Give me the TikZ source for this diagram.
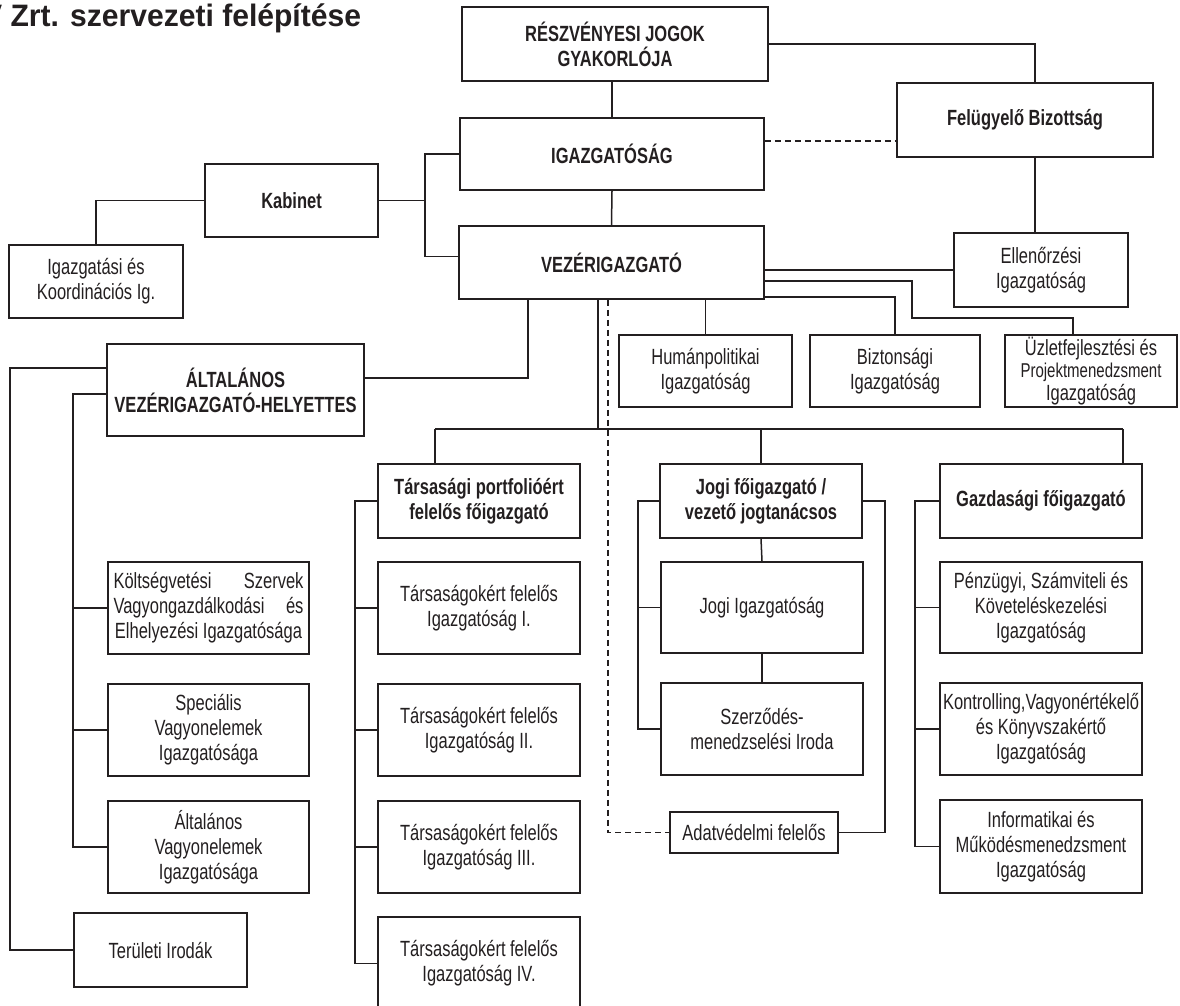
\documentclass[tikz,border=0pt]{standalone}
\usepackage{fontspec}
\setmainfont{Liberation Sans}[FakeStretch=0.75]
\newfontfamily\headfont{Liberation Sans}[FakeStretch=0.97]
\usetikzlibrary{calc}
\definecolor{ink}{HTML}{231F20}
\tikzset{
  box/.style={draw=ink, line width=1.8pt, inner sep=0pt, align=center, text=ink, font=\fontsize{22}{25}\selectfont},
  boxb/.style={box, font=\fontsize{22}{25}\selectfont\bfseries},
  sz/.style 2 args={minimum width=#1pt, minimum height=#2pt},
  link/.style={draw=ink, line width=1.5pt},
  dlink/.style={link, dash pattern=on 6pt off 4pt},
}

\begin{document}
\begin{tikzpicture}[x=1pt,y=-1pt]
  \fill[white] (0,0) rectangle (1180,1006);
  \useasboundingbox (0,0) rectangle (1180,1006);

  \node[anchor=base west, inner sep=0pt, text=ink, font=\headfont\bfseries\fontsize{31}{36}\selectfont] (title) at (-18,27) {V Zrt. szervezeti felépítése};

  \node[boxb, sz={306}{74}] (resz) at (615,44) {RÉSZVÉNYESI JOGOK\\GYAKORLÓJA};
  \node[boxb, sz={256}{74}] (felugy) at (1025,120) {Felügyelő Bizottság};
  \node[boxb, sz={304}{72}] (igaz) at (612,154) {IGAZGATÓSÁG};
  \node[boxb, sz={173}{73}] (kab) at (291.5,200.5) {Kabinet};
  \node[box, sz={174}{73}] (igkoord) at (96,281.5) {Igazgatási és\\Koordinációs Ig.};
  \node[boxb, sz={305}{73}] (vez) at (611.5,262.5) {VEZÉRIGAZGATÓ};
  \node[box, sz={174}{74}] (ellen) at (1041,270) {Ellenőrzési\\Igazgatóság};
  \node[box, sz={173}{72}] (human) at (705.5,371) {Humánpolitikai\\Igazgatóság};
  \node[box, sz={170}{72}] (bizt) at (895,371) {Biztonsági\\Igazgatóság};
  \node[box, sz={172}{72}, font=\fontsize{22}{22.5}\selectfont] (uzlet) at (1091,371) {Üzletfejlesztési és\\{\fontsize{20}{22.5}\selectfont Projektmenedzsment}\\Igazgatóság};
  \node[boxb, sz={257}{92}] (altveh) at (235.5,390) {ÁLTALÁNOS\\VEZÉRIGAZGATÓ-HELYETTES};

  \node[boxb, sz={202}{74}] (tars) at (479,501) {Társasági portfolióért\\felelős főigazgató};
  \node[boxb, sz={202}{74}] (jogifo) at (761,501) {Jogi főigazgató /\\vezető jogtanácsos};
  \node[boxb, sz={202}{74}] (gazd) at (1041,501) {Gazdasági főigazgató};

  \node[box, sz={201}{92}] (koltseg) at (208.5,608) {\makebox[190pt][s]{Költségvetési Szervek}\\\makebox[190pt][s]{Vagyongazdálkodási és}\\Elhelyezési Igazgatósága};
  \node[box, sz={201}{92}] (spec) at (208.5,730) {Speciális\\Vagyonelemek\\Igazgatósága};
  \node[box, sz={201}{92}] (altvagy) at (208.5,847) {Általános\\Vagyonelemek\\Igazgatósága};
  \node[box, sz={173}{74}] (terul) at (160.5,950) {Területi Irodák};

  \node[box, sz={202}{92}] (tars1) at (479,608) {Társaságokért felelős\\Igazgatóság I.};
  \node[box, sz={202}{92}] (tars2) at (479,730) {Társaságokért felelős\\Igazgatóság II.};
  \node[box, sz={202}{92}] (tars3) at (479,847) {Társaságokért felelős\\Igazgatóság III.};
  \node[box, sz={202}{93}] (tars4) at (479,963.5) {Társaságokért felelős\\Igazgatóság IV.};

  \node[box, sz={202}{91}] (jogig) at (762,607.5) {Jogi Igazgatóság};
  \node[box, sz={202}{92}] (szerz) at (762,729) {Szerződés-\\menedzselési Iroda};
  \node[box, sz={168}{41}, line width=1.5pt] (adat) at (754,832.5) {Adatvédelmi felelős};

  \node[box, sz={202}{91}] (penz) at (1041,607.5) {Pénzügyi, Számviteli és\\Követeléskezelési\\Igazgatóság};
  \node[box, sz={202}{92}] (kontr) at (1041,729) {Kontrolling,Vagyonértékelő\\és Könyvszakértő\\Igazgatóság};
  \node[box, sz={202}{93}] (inform) at (1041,846.5) {Informatikai és\\Működésmenedzsment\\Igazgatóság};

  \coordinate (fb) at (1035,0);
  \coordinate (kbus) at (425,200.5);
  \coordinate (uzbend) at (912,318);
  \coordinate (avb) at (528,378);
  \coordinate (vbus) at (598,429);
  \coordinate (busL) at (435,429);
  \coordinate (busR) at (1123,429);
  \coordinate (dbend) at (608,832.5);
  \coordinate (jr) at (885,501);
  \coordinate (jl) at (638,0);
  \coordinate (tl) at (355,0);
  \coordinate (gl) at (915,0);
  \coordinate (ol) at (10,0);
  \coordinate (il) at (73,0);

  \draw[link] (resz.east) -| (fb |- felugy.north);
  \draw[link] (fb |- felugy.south) -- (fb |- ellen.north);
  \draw[link] (igaz.north) -- (igaz.north |- resz.south);
  \draw[link] (igaz.south) -- (vez.north);
  \draw[dlink] ([yshift=13pt]igaz.east) -- ([yshift=13pt]igaz.east -| felugy.west);
  \draw[link] (kab.east) -- (kbus);
  \draw[link] (igaz.west) -| (kbus) |- ([yshift=6pt]vez.west);
  \draw[link] (kab.west) -| (igkoord.north);
  \draw[link] (vez.east |- ellen.west) -- (ellen.west);
  \draw[link] ([yshift=-18.5pt]vez.east) -| (uzbend) -| ([xshift=-18pt]uzlet.north);
  \draw[link] ([yshift=-34.5pt]vez.east) -| (bizt.north);
  \draw[link] (human.north |- vez.south) -- (human.north);
  \draw[link] (avb |- vez.south) -- (avb) -- (avb -| altveh.east);
  \draw[link] (vbus |- vez.south) -- (vbus);
  \draw[link] (busL) -- (busR);
  \draw[link] (busL) -- (busL |- tars.north);
  \draw[link] (jogifo.north |- busL) -- (jogifo.north);
  \draw[link] (busR) -- (busR |- gazd.north);
  \draw[dlink] (dbend |- vez.south) -- (dbend) -- (adat.west);
  \draw[link] (adat.east) -| (jr) -- (jogifo.east);
  \draw[link] (jogifo.south) -- (jogig.north);
  \draw[link] (jogig.south) -- (szerz.north);
  \draw[link] (jogifo.west) -| (jl |- szerz.west) -- (szerz.west);
  \draw[link] (jl |- jogig.west) -- (jogig.west);
  \draw[link] (tars.west) -| (tl |- tars4.west) -- (tars4.west);
  \draw[link] (tl |- tars1.west) -- (tars1.west);
  \draw[link] (tl |- tars2.west) -- (tars2.west);
  \draw[link] (tl |- tars3.west) -- (tars3.west);
  \draw[link] (gazd.west) -| (gl |- inform.west) -- (inform.west);
  \draw[link] (gl |- penz.west) -- (penz.west);
  \draw[link] (gl |- kontr.west) -- (kontr.west);
  \draw[link] ([yshift=22pt]altveh.west) -| (ol |- terul.west) -- (terul.west);
  \draw[link] ([yshift=-4pt]altveh.west) -| (il |- altvagy.west) -- (altvagy.west);
  \draw[link] (il |- koltseg.west) -- (koltseg.west);
  \draw[link] (il |- spec.west) -- (spec.west);
\end{tikzpicture}
\end{document}
